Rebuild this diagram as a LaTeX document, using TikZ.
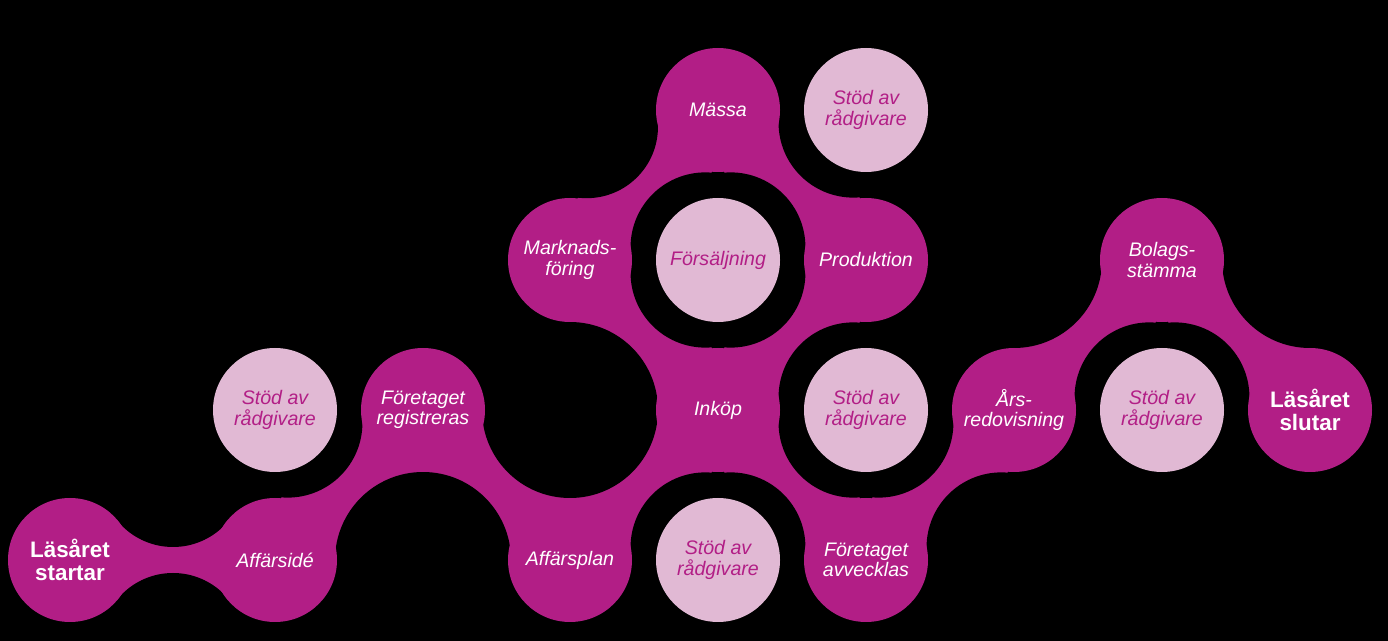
\documentclass[tikz,border=0pt]{standalone}
\usepackage{fontspec}
\setmainfont{Liberation Sans}
\usetikzlibrary{calc}
\definecolor{mag}{RGB}{178,30,134}
\definecolor{lite}{RGB}{225,185,212}
% #1,#2 = circle centres, #3,#4 = fillet centres
\newcommand\mylink[4]{\fill[neck] ($(#1)!31pt!(#3)$) -- ($(#2)!31pt!(#3)$) -- ($(#2)!31pt!(#4)$) -- ($(#1)!31pt!(#4)$) -- cycle;}
\begin{document}
\begin{tikzpicture}[x=0.5pt,y=-0.5pt,
  blob/.style={circle, fill=mag, minimum size=62pt, inner sep=0pt, text=white, align=center,
               font=\fontsize{9.8}{10.2}\selectfont\itshape},
  endblob/.style={blob, font=\fontsize{11.2}{11.4}\selectfont\bfseries},
  support/.style={circle, fill=lite, minimum size=62pt, inner sep=0pt, text=mag, align=center,
               font=\fontsize{9.8}{10.2}\selectfont\itshape},
  neck/.style={fill=mag},
  hole/.style={fill=black}]
\fill[black] (0,0) rectangle (1388,641);
\useasboundingbox (0,0) rectangle (1388,641);
% centres
\coordinate (cStart) at (70,560);
\coordinate (cIdea) at (275,560);
\coordinate (cReg) at (423,410);
\coordinate (cPlan) at (570,560);
\coordinate (cInk) at (718,410);
\coordinate (cAvv) at (866,560);
\coordinate (cMark) at (570,260);
\coordinate (cProd) at (866,260);
\coordinate (cMass) at (718,110);
\coordinate (cArs) at (1014,410);
\coordinate (cBol) at (1162,260);
\coordinate (cEnd) at (1310,410);
\coordinate (sA) at (275,410);
\coordinate (sB) at (718,560);
\coordinate (sC) at (866,410);
\coordinate (sD) at (718,260);
\coordinate (sE) at (866,110);
\coordinate (sF) at (1162,410);
\coordinate (h1) at (423,560);
\coordinate (h2) at (570,410);
\coordinate (h3) at (570,110);
\coordinate (h4) at (1014,560);
\coordinate (h5) at (1014,260);
\coordinate (h6) at (1310,260);
\coordinate (h7) at (173,475);
\coordinate (h8) at (173,645);
% fillet centres shifted towards the necks
\coordinate (fA1) at ($(sA)!0.0854!(h1)$);
\coordinate (fB2) at ($(sB)!0.0854!(h2)$);
\coordinate (fD2) at ($(sD)!0.0854!(h2)$);
\coordinate (fD3) at ($(sD)!0.0854!(h3)$);
\coordinate (fED) at ($(sE)!0.0854!(sD)$);
\coordinate (fDE) at ($(sD)!0.0854!(sE)$);
\coordinate (fDC) at ($(sD)!0.0854!(sC)$);
\coordinate (fCD) at ($(sC)!0.0854!(sD)$);
\coordinate (fCB) at ($(sC)!0.0854!(sB)$);
\coordinate (fBC) at ($(sB)!0.0854!(sC)$);
\coordinate (fC4) at ($(sC)!0.0854!(h4)$);
\coordinate (f4C) at ($(h4)!0.0854!(sC)$);
\coordinate (fF5) at ($(sF)!0.0854!(h5)$);
\coordinate (fF6) at ($(sF)!0.0854!(h6)$);
\coordinate (f3D) at ($(h3)!0.112!(sD)$);
% necks
\fill[neck] ([shift={(47.8,-39.5)}]cStart) rectangle ([shift={(-47.8,39.5)}]cIdea);
\mylink{cIdea}{cReg}{h1}{fA1}
\mylink{cReg}{cPlan}{h2}{h1}
\mylink{cPlan}{cInk}{h2}{fB2}
\mylink{cMark}{cInk}{h2}{fD2}
\mylink{cMark}{cMass}{f3D}{fD3}
\mylink{cMass}{cProd}{fED}{fDE}
\mylink{cProd}{cInk}{fDC}{fCD}
\mylink{cInk}{cAvv}{fCB}{fBC}
\mylink{cAvv}{cArs}{fC4}{f4C}
\mylink{cArs}{cBol}{h5}{fF5}
\mylink{cBol}{cEnd}{fF6}{h6}
% fillets
\foreach \p in {fA1,fB2,fD2,fD3,fED,fDE,fDC,fCD,fCB,fBC,fC4,f4C,fF5,fF6}
  \fill[hole] (\p) circle[radius=74.8];
\fill[hole] (f3D) circle[radius=71.4];
\foreach \p in {h1,h2,h5,h6} \fill[hole] (\p) circle[radius=88];
\foreach \p in {h7,h8} \fill[hole] (\p) circle[radius=72];
% main nodes
\node[endblob] (start) at (cStart) {Läsåret\\startar};
\node[blob] (idea) at (cIdea) {Affärsidé};
\node[blob] (reg) at (cReg) {Företaget\\registreras};
\node[blob] (plan) at (cPlan) {Affärsplan};
\node[blob] (ink) at (cInk) {Inköp};
\node[blob] (avv) at (cAvv) {Företaget\\avvecklas};
\node[blob] (mark) at (cMark) {Marknads-\\föring};
\node[blob] (prod) at (cProd) {Produktion};
\node[blob] (mass) at (cMass) {Mässa};
\node[blob] (ars) at (cArs) {Års-\\redovisning};
\node[blob] (bol) at (cBol) {Bolags-\\stämma};
\node[endblob] (end) at (cEnd) {Läsåret\\slutar};
% support circles
\node[support] (stodA) at (sA) {Stöd av\\rådgivare};
\node[support] (stodB) at (sB) {Stöd av\\rådgivare};
\node[support] (stodC) at (sC) {Stöd av\\rådgivare};
\node[support] (fors) at (sD) {Försäljning};
\node[support] (stodE) at (sE) {Stöd av\\rådgivare};
\node[support] (stodF) at (sF) {Stöd av\\rådgivare};
\end{tikzpicture}
\end{document}
